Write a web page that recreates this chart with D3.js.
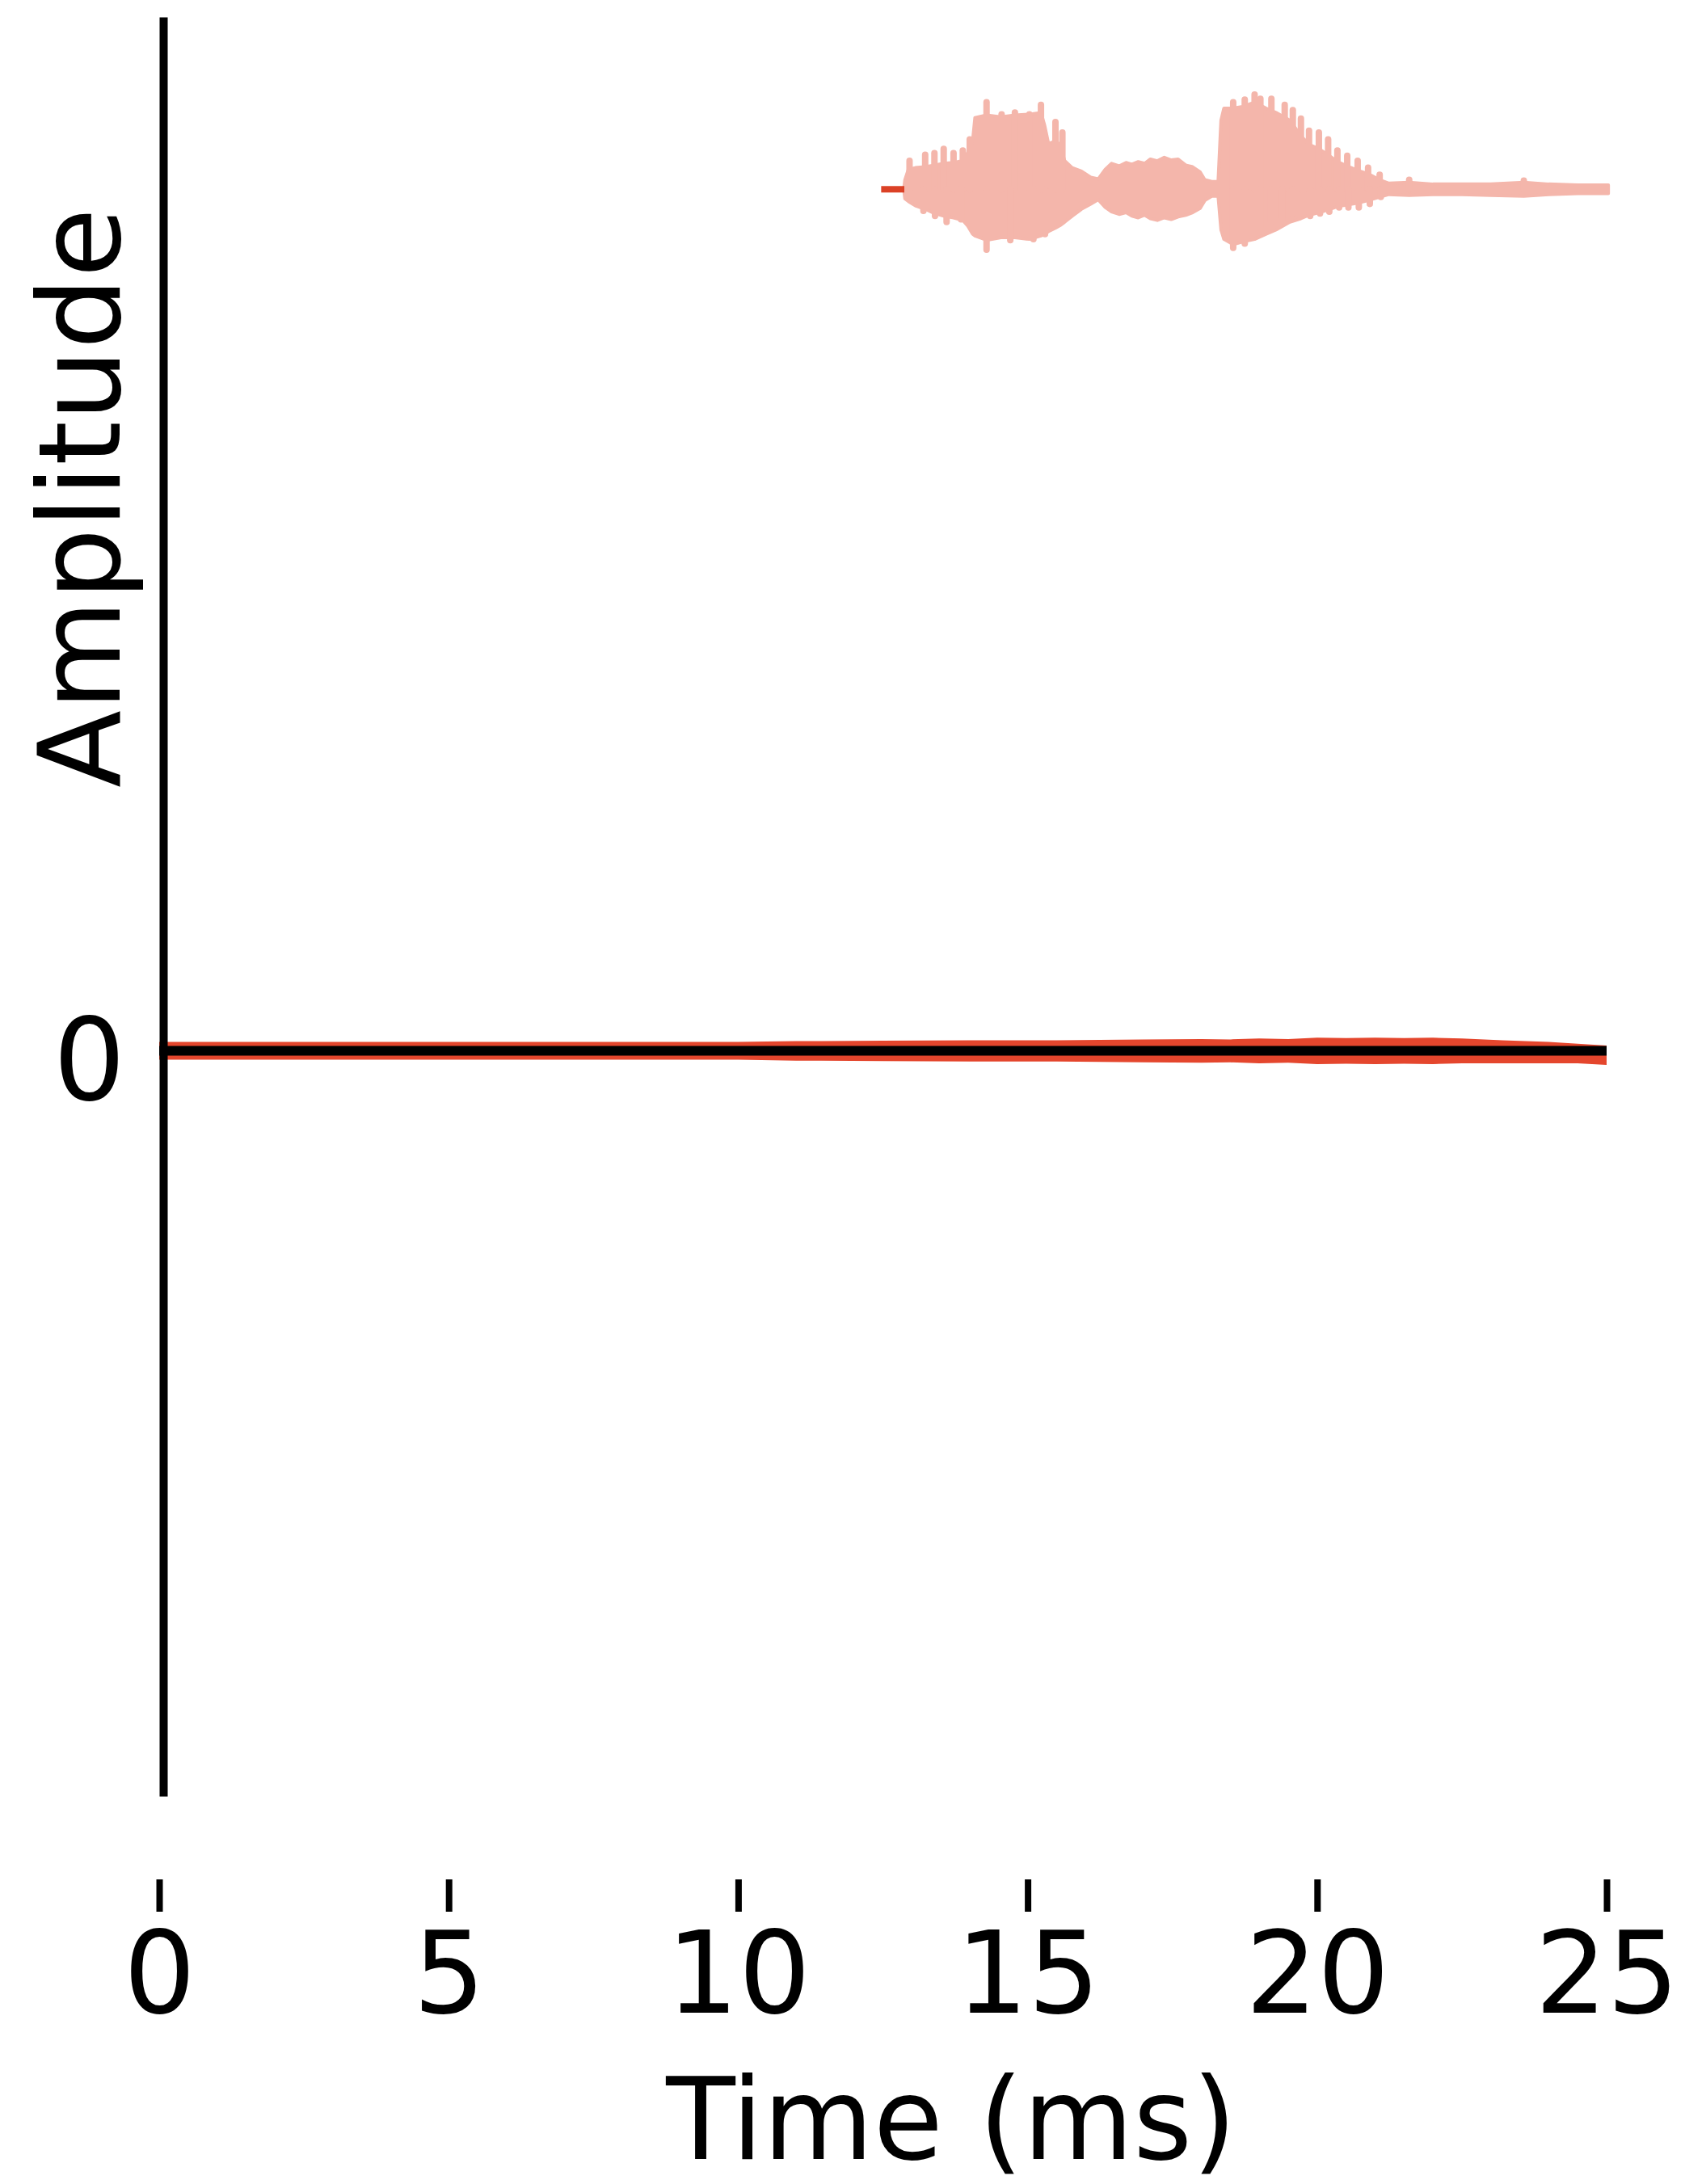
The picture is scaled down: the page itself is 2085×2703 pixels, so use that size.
<!DOCTYPE html>
<html>
<head>
<meta charset="utf-8">
<script src="https://cdn.jsdelivr.net/npm/d3@7/dist/d3.min.js"></script>
<style>
  html, body { margin: 0; padding: 0; background: #ffffff; }
  svg { display: block; }
  text { font-family: "DejaVu Sans", sans-serif; fill: #000; }
</style>
</head>
<body>
<svg id="chart" width="2085" height="2703"></svg>
<script>
// ---- data -------------------------------------------------------------
const xTicks = [0, 5, 10, 15, 20, 25];
const yTicks = [0];
const xLabel = "Time (ms)";
const yLabel = "Amplitude";

// vertical offset of the raw recording trace
const traceOffset = 1.0;

// quiet lead-in of the raw trace (ms)
const leadT = [12.47, 12.87];

// raw trace envelope: time (ms), upper and lower excursion (amplitude units)
const envT    = [12.86, 12.88, 12.94, 13.06, 13.23, 13.39, 13.55, 13.72, 13.88, 13.96, 14.05, 14.09, 14.29, 14.54, 14.78, 15.03, 15.23, 15.29, 15.36, 15.48, 15.56, 15.64, 15.77, 15.93, 16.09, 16.22, 16.34, 16.45, 16.58, 16.70, 16.80, 16.91, 17.02, 17.12, 17.24, 17.36, 17.48, 17.60, 17.73, 17.85, 17.98, 18.06, 18.18, 18.29, 18.34, 18.39, 18.55, 18.71, 18.92, 19.12, 19.29, 19.53, 19.72, 19.86, 20.03, 20.19, 20.35, 20.52, 20.70, 20.88, 21.08, 21.24, 21.59, 22.00, 22.50, 23.00, 23.57, 24.00, 24.50, 25.03];
const envUp   = [0.000, 0.011, 0.023, 0.025, 0.026, 0.028, 0.030, 0.031, 0.033, 0.042, 0.056, 0.083, 0.086, 0.084, 0.086, 0.087, 0.089, 0.075, 0.053, 0.056, 0.052, 0.033, 0.025, 0.021, 0.014, 0.012, 0.023, 0.030, 0.027, 0.031, 0.029, 0.032, 0.030, 0.035, 0.033, 0.037, 0.034, 0.035, 0.028, 0.026, 0.020, 0.011, 0.009, 0.009, 0.080, 0.094, 0.094, 0.096, 0.101, 0.094, 0.089, 0.080, 0.062, 0.052, 0.047, 0.040, 0.032, 0.027, 0.022, 0.018, 0.011, 0.007, 0.008, 0.006, 0.006, 0.006, 0.008, 0.006, 0.005, 0.005];
const envDown = [0.000, 0.011, 0.014, 0.019, 0.023, 0.028, 0.031, 0.033, 0.036, 0.042, 0.052, 0.054, 0.059, 0.056, 0.056, 0.058, 0.054, 0.052, 0.049, 0.045, 0.042, 0.038, 0.031, 0.023, 0.017, 0.012, 0.021, 0.026, 0.029, 0.027, 0.031, 0.033, 0.030, 0.034, 0.036, 0.033, 0.035, 0.032, 0.030, 0.027, 0.022, 0.013, 0.008, 0.008, 0.047, 0.058, 0.064, 0.061, 0.058, 0.052, 0.047, 0.038, 0.034, 0.030, 0.027, 0.024, 0.020, 0.018, 0.016, 0.013, 0.009, 0.006, 0.007, 0.006, 0.006, 0.007, 0.008, 0.006, 0.005, 0.005];

// individual oscillation peaks standing out of the envelope
const peakUpT   = [12.96, 13.23, 13.39, 13.55, 13.72, 13.88, 14.00, 14.29, 14.55, 14.78, 15.03, 15.23, 15.48, 15.60, 18.55, 18.75, 18.92, 19.02, 19.21, 19.44, 19.58, 19.72, 19.86, 20.03, 20.19, 20.35, 20.52, 20.70, 20.88, 21.08, 21.59, 23.57];
const peakUp    = [0.033, 0.040, 0.042, 0.047, 0.042, 0.045, 0.058, 0.101, 0.087, 0.089, 0.087, 0.098, 0.078, 0.066, 0.101, 0.104, 0.110, 0.105, 0.105, 0.098, 0.092, 0.082, 0.068, 0.066, 0.058, 0.045, 0.039, 0.033, 0.025, 0.017, 0.011, 0.010];
const peakDownT = [13.20, 13.40, 13.60, 13.85, 14.29, 14.70, 15.10, 15.30, 18.55, 18.75, 19.02, 19.20, 19.40, 19.58, 19.88, 20.05, 20.21, 20.38, 20.54, 20.72, 20.91, 21.10];
const peakDown  = [0.025, 0.031, 0.038, 0.035, 0.070, 0.059, 0.058, 0.052, 0.068, 0.063, 0.044, 0.038, 0.033, 0.028, 0.031, 0.028, 0.026, 0.021, 0.021, 0.021, 0.017, 0.009];

// filtered output (red) around zero: centre and ripple half-width
const redT      = [0, 10.0, 11.0, 12.5, 14.0, 15.5, 17.0, 18.0, 18.5, 19.0, 19.5, 20.0, 20.5, 21.0, 21.5, 22.0, 22.5, 23.2, 24.0, 24.5, 25.0];
const redCenter = [0, 0, 0, 0, 0, 0, 0, 0, 0, 0, 0, 0, 0, 0, 0, 0, 0, -0.001, -0.002, -0.003, -0.005];
const redRipple = [0, 0, 0.001, 0.0015, 0.002, 0.002, 0.003, 0.0035, 0.003, 0.004, 0.0035, 0.005, 0.0045, 0.005, 0.0045, 0.005, 0.004, 0.003, 0.002, 0.001, 0.001];

// model output (black) around zero
const blackT = [0, 25];
const blackV = [0, 0];

// ---- scales -------------------------------------------------------------
const svg = d3.select("#chart");
const x = d3.scaleLinear().domain([0, 25]).range([197, 1988]);
const y = d3.scaleLinear().domain([-0.865, 1.2]).range([2223, 21]);

const lightRed = "#f4b6ab";
const red = "#e4462d";
const darkRed = "#db4126";

// ---- raw trace ----------------------------------------------------------
const envData = envT.map((t, i) => ({ t, up: envUp[i], down: envDown[i] }));
svg.append("path")
  .datum(envData)
  .attr("fill", lightRed)
  .attr("stroke", lightRed)
  .attr("stroke-width", 4)
  .attr("stroke-linejoin", "round")
  .attr("d", d3.area()
    .x(d => x(d.t))
    .y0(d => y(traceOffset - d.down))
    .y1(d => y(traceOffset + d.up)));

svg.append("g").selectAll("line")
  .data(peakUpT.map((t, i) => ({ t, v: peakUp[i] })))
  .join("line")
  .attr("x1", d => x(d.t)).attr("x2", d => x(d.t))
  .attr("y1", y(traceOffset)).attr("y2", d => y(traceOffset + d.v))
  .attr("stroke", lightRed).attr("stroke-width", 8).attr("stroke-linecap", "round");

svg.append("g").selectAll("line")
  .data(peakDownT.map((t, i) => ({ t, v: peakDown[i] })))
  .join("line")
  .attr("x1", d => x(d.t)).attr("x2", d => x(d.t))
  .attr("y1", y(traceOffset)).attr("y2", d => y(traceOffset - d.v))
  .attr("stroke", lightRed).attr("stroke-width", 8).attr("stroke-linecap", "round");

svg.append("path")
  .datum(leadT)
  .attr("fill", "none")
  .attr("stroke", darkRed)
  .attr("stroke-width", 8)
  .attr("d", d3.line().x(t => x(t)).y(() => y(traceOffset)));

// ---- red output around zero (22 px wide band plus ripple) --------------
const redHalf = 11;
const redData = redT.map((t, i) => ({ t, c: redCenter[i], r: redRipple[i] }));
svg.append("path")
  .datum(redData)
  .attr("fill", red)
  .attr("d", d3.area()
    .x(d => x(d.t))
    .y0(d => y(d.c - d.r) + redHalf)
    .y1(d => y(d.c + d.r) - redHalf));

// ---- black output around zero -----------------------------------------
svg.append("path")
  .datum(blackT.map((t, i) => ({ t, v: blackV[i] })))
  .attr("fill", "none")
  .attr("stroke", "#000")
  .attr("stroke-width", 12)
  .attr("d", d3.line().x(d => x(d.t)).y(d => y(d.v)));

// ---- axes -------------------------------------------------------------
const yAxis = svg.append("g")
  .attr("transform", "translate(202,0)")
  .call(d3.axisLeft(y).tickValues(yTicks).tickFormat(d3.format("d"))
    .tickSize(0).tickSizeOuter(0).tickPadding(47));
yAxis.select(".domain").attr("stroke", "#000").attr("stroke-width", 10);
yAxis.selectAll("text")
  .attr("font-family", "DejaVu Sans")
  .attr("font-size", 140)
  .attr("dy", "0.43em");

const xAxis = svg.append("g")
  .attr("transform", "translate(0,2326)")
  .call(d3.axisBottom(x).tickValues(xTicks).tickFormat(d3.format("d"))
    .tickSize(40).tickSizeOuter(0).tickPadding(26));
xAxis.select(".domain").remove();
xAxis.selectAll(".tick line").attr("stroke", "#000").attr("stroke-width", 8);
xAxis.selectAll("text")
  .attr("font-family", "DejaVu Sans")
  .attr("font-size", 140);

// ---- axis titles --------------------------------------------------------
svg.append("text")
  .attr("x", 1177)
  .attr("y", 2672)
  .attr("text-anchor", "middle")
  .attr("font-size", 140)
  .text(xLabel);

svg.append("text")
  .attr("transform", "translate(148,616) rotate(-90)")
  .attr("text-anchor", "middle")
  .attr("font-size", 140)
  .text(yLabel);
</script>
</body>
</html>
